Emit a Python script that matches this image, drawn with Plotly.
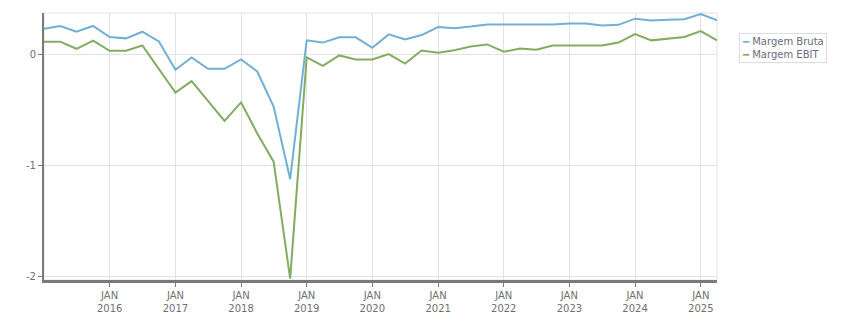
import plotly.graph_objects as go

dates = [f"{y}-{m:02d}-01" for y in range(2015, 2026) for m in (1, 4, 7, 10)][:42]

margem_bruta = [0.235, 0.26, 0.208, 0.26, 0.16, 0.148, 0.208, 0.12,
                -0.136, -0.024, -0.127, -0.127, -0.042, -0.151, -0.468, -1.122,
                0.13, 0.11, 0.157, 0.157, 0.063, 0.184, 0.138, 0.178,
                0.25, 0.24, 0.255, 0.274, 0.274, 0.274, 0.274, 0.274,
                0.283, 0.283, 0.265, 0.27, 0.326, 0.31, 0.315, 0.32,
                0.368, 0.31]
margem_ebit = [0.118, 0.118, 0.054, 0.127, 0.036, 0.036, 0.084, -0.13,
               -0.341, -0.238, -0.42, -0.597, -0.43, -0.71, -0.965, -2.02,
               -0.024, -0.1, -0.006, -0.042, -0.042, 0.006, -0.079, 0.039,
               0.018, 0.04, 0.075, 0.093, 0.027, 0.057, 0.045, 0.084,
               0.084, 0.084, 0.084, 0.11, 0.187, 0.13, 0.145, 0.16,
               0.214, 0.13]

series_names = ["Margem Bruta", "Margem EBIT"]
series_colors = ["#72afd4", "#82ad60"]

x_tick_vals = [f"{y}-01-01" for y in range(2016, 2026)]
x_tick_text = [f"JAN<br>{y}" for y in range(2016, 2026)]
y_tick_vals = [-2, -1, 0]
y_tick_text = ["-2", "-1", "0"]

fig = go.Figure()
for name, vals, col in zip(series_names, [margem_bruta, margem_ebit], series_colors):
    fig.add_trace(go.Scatter(x=dates, y=vals, mode="lines", name=name,
                             line=dict(color=col, width=2)))

legend_text = "<br>".join(
    f"<span style='color:{c}'>━</span> {n}" for n, c in zip(series_names, series_colors))

fig.update_layout(
    width=851, height=313,
    margin=dict(l=44, r=134, t=13, b=33, autoexpand=False),
    paper_bgcolor="white", plot_bgcolor="white",
    font=dict(family="DejaVu Sans", size=10, color="#707070"),
    showlegend=False,
    shapes=[dict(type="rect", xref="paper", yref="paper", x0=0, x1=1, y0=0, y1=1,
                 line=dict(color="#e2e2e2", width=1), layer="below")],
    annotations=[dict(text=legend_text, xref="paper", yref="paper",
                      x=1.033, y=0.926, xanchor="left", yanchor="top",
                      showarrow=False, align="left",
                      font=dict(size=10, color="#6b6b80", family="DejaVu Sans"),
                      bordercolor="#dddddd", borderwidth=1, borderpad=2,
                      bgcolor="white")],
)
fig.update_xaxes(range=[dates[0], dates[-1]], tickvals=x_tick_vals, ticktext=x_tick_text,
                 showgrid=True, gridcolor="#e2e2e2", gridwidth=1,
                 showline=True, linecolor="#7a7a7a", linewidth=3,
                 ticks="outside", ticklen=4, tickcolor="#7a7a7a", zeroline=False,
                 automargin=False)
fig.update_yaxes(range=[-2.033, 0.377], tickvals=y_tick_vals, ticktext=y_tick_text,
                 showgrid=True, gridcolor="#e2e2e2", gridwidth=1,
                 showline=True, linecolor="#7a7a7a", linewidth=2,
                 ticks="outside", ticklen=4, tickcolor="#7a7a7a", zeroline=False,
                 automargin=False)

fig.write_html("out.html")
